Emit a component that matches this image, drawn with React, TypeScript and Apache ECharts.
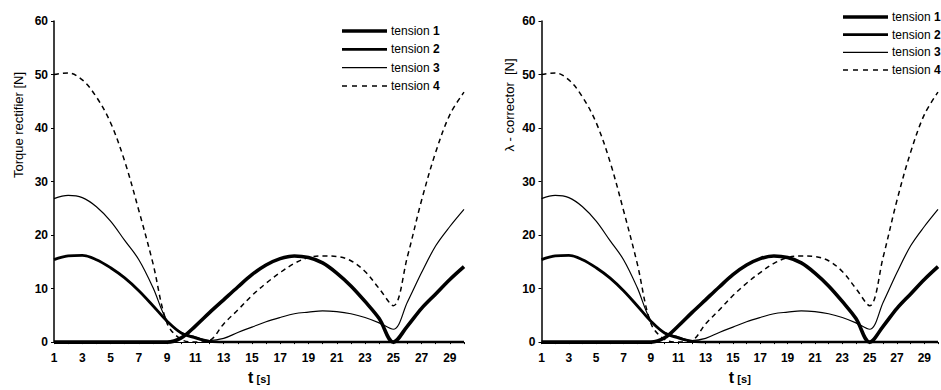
import React, { useEffect, useRef } from "react";
import * as echarts from "echarts";

const T = [1, 2, 3, 4, 5, 6, 7, 8, 9, 10, 11, 12, 13, 14, 15, 16, 17, 18, 19, 20, 21, 22, 23, 24, 25, 26, 27, 28, 29, 30];
const tension1 = [0, 0, 0, 0, 0, 0, 0, 0, 0, 0.8, 3.0, 5.5, 7.9, 10.3, 12.6, 14.4, 15.6, 16.1, 15.8, 14.8, 12.9, 10.5, 7.6, 4.4, 0, 3.0, 6.3, 9.0, 11.7, 14.1];
const tension2 = [15.4, 16.1, 16.2, 15.4, 13.9, 12.0, 9.6, 6.8, 3.9, 1.7, 0.8, 0.15, 0, 0, 0, 0, 0, 0, 0, 0, 0, 0, 0, 0, 0, 0, 0, 0, 0, 0];
const tension3 = [26.8, 27.4, 27.0, 25.3, 22.6, 19.0, 15.4, 10.2, 4.0, 1.8, 1.0, 0.3, 0.7, 1.8, 2.8, 3.8, 4.6, 5.3, 5.6, 5.85, 5.7, 5.3, 4.6, 3.6, 2.4, 7.5, 13.0, 18.0, 21.6, 24.8];
const tension4 = [50.0, 50.3, 49.0, 45.8, 41.0, 33.8, 24.6, 14.7, 3.5, 0.5, 0, 0.3, 3.4, 6.0, 8.7, 11.0, 13.0, 14.7, 15.8, 16.1, 16.0, 15.2, 13.2, 10.0, 6.8, 16.0, 26.5, 35.5, 42.5, 46.7];
const seriesNames = ["tension 1", "tension 2", "tension 3", "tension 4"];
const xAxisTitle = "t";
const xAxisUnit = "[s]";
const leftTitle = "Torque rectifier [N]";
const rightTitle = "λ - corrector  [N]";

const FONT = "'Liberation Sans', Arial, Helvetica, sans-serif";

const legendIcons = [
  "path://M0,0H45V3.4H0Z",
  "path://M0,0H45V2.7H0Z",
  "path://M0,0H45V1.3H0Z",
  "path://M0,0H5V1.5H0Z M10,0H15V1.5H10Z M20,0H25V1.5H20Z M30,0H35V1.5H30Z M40,0H45V1.5H40Z",
];

type ChartProps = {
  left: number;
  width: number;
  gridLeft: number;
  gridRight: number;
  legendLeft: number;
  legendTop: number;
  legendGap: number;
  title: string;
  titleX: number;
  titleY: number;
};

function buildOption(p: ChartProps): any {
  const allData = [tension1, tension2, tension3, tension4];
  const styles = [
    { width: 3.6, type: "solid" },
    { width: 2.8, type: "solid" },
    { width: 1.2, type: "solid" },
    { width: 1.5, type: [5, 4] },
  ];
  return {
    animation: false,
    backgroundColor: "#ffffff",
    grid: { left: p.gridLeft, right: p.gridRight, top: 21, bottom: 42 },
    xAxis: {
      type: "value",
      min: 1,
      max: 30,
      interval: 1,
      axisLine: { show: true, onZero: false, lineStyle: { color: "#000", width: 1 } },
      axisTick: { show: true, length: 2, lineStyle: { color: "#000" } },
      splitLine: { show: false },
      axisLabel: {
        formatter: (v: number) => (Math.round(v) % 2 === 1 ? String(v) : ""),
        fontSize: 12,
        fontWeight: "bold",
        color: "#000",
        margin: 10,
        fontFamily: FONT,
      },
      name: `{t|${xAxisTitle}} {s|${xAxisUnit}}`,
      nameLocation: "middle",
      nameGap: 23,
      nameTextStyle: {
        rich: {
          t: { fontSize: 16, fontWeight: "bold", fontFamily: FONT, color: "#000" },
          s: { fontSize: 11, fontWeight: "bold", fontFamily: FONT, color: "#000", padding: [3, 0, 0, 0] },
        },
      },
    },
    yAxis: {
      type: "value",
      min: 0,
      max: 60,
      interval: 10,
      axisLine: { show: true, lineStyle: { color: "#000", width: 1.5 } },
      axisTick: { show: true, length: 3, lineStyle: { color: "#000" } },
      splitLine: { show: false },
      axisLabel: { fontSize: 12, fontWeight: "bold", color: "#000", margin: 6, fontFamily: FONT },
    },
    legend: {
      orient: "vertical",
      left: p.legendLeft,
      top: p.legendTop,
      itemWidth: 45,
      itemHeight: 14,
      itemGap: p.legendGap,
      symbolKeepAspect: true,
      data: seriesNames.map((n, i) => ({ name: n, icon: legendIcons[i], itemStyle: { color: "#000" } })),
      formatter: (name: string) => {
        const parts = name.split(" ");
        return `{a|${parts[0]} }{b|${parts[1]}}`;
      },
      textStyle: {
        padding: [0, 0, 0, -1],
        rich: {
          a: { fontSize: 12, color: "#000", fontFamily: FONT },
          b: { fontSize: 12, color: "#000", fontWeight: "bold", fontFamily: FONT },
        },
      },
    },
    graphic: [
      {
        type: "text",
        x: p.titleX,
        y: p.titleY,
        rotation: Math.PI / 2,
        style: {
          text: p.title,
          fontSize: 13,
          fill: "#000",
          fontFamily: FONT,
          textAlign: "center",
          textVerticalAlign: "middle",
        },
      },
    ],
    series: allData.map((arr, i) => ({
      name: seriesNames[i],
      type: "line",
      data: T.map((t, j) => [t, arr[j]]),
      symbol: "none",
      smooth: 0.35,
      color: "#000",
      lineStyle: { color: "#000", width: styles[i].width, type: styles[i].type },
      z: 10 - i,
    })),
  };
}

function Chart(p: ChartProps) {
  const ref = useRef<HTMLDivElement>(null);
  useEffect(() => {
    if (!ref.current) return;
    const chart = echarts.init(ref.current, undefined, { renderer: "svg" });
    chart.setOption(buildOption(p));
    return () => chart.dispose();
  }, []);
  return (
    <div
      ref={ref}
      style={{ position: "absolute", left: p.left, top: 0, width: p.width, height: 390 }}
    />
  );
}

export default function App() {
  return (
    <div
      style={{
        position: "fixed",
        left: 0,
        top: 0,
        width: 941,
        height: 390,
        overflow: "hidden",
        background: "#fff",
      }}
    >
      <Chart
        left={0}
        width={470}
        gridLeft={54}
        gridRight={6}
        legendLeft={337}
        legendTop={20}
        legendGap={6.3}
        title={leftTitle}
        titleX={18.5}
        titleY={125}
      />
      <Chart
        left={470}
        width={471}
        gridLeft={71.5}
        gridRight={-9}
        legendLeft={368}
        legendTop={6}
        legendGap={5.7}
        title={rightTitle}
        titleX={39}
        titleY={105}
      />
    </div>
  );
}
